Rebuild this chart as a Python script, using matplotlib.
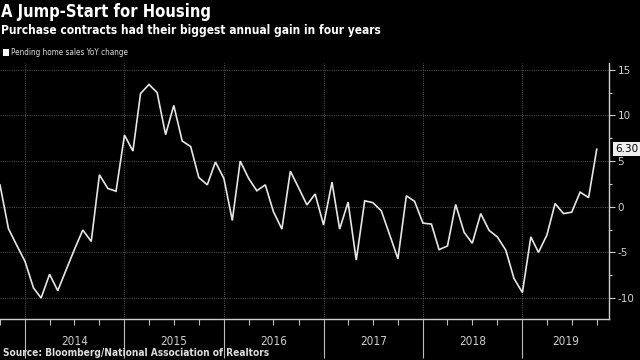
import numpy as np
import pandas as pd
import matplotlib
matplotlib.use("Agg")
import matplotlib.pyplot as plt
import matplotlib.dates as mdates
import matplotlib.transforms as mtransforms
from matplotlib.patches import Rectangle
from matplotlib.ticker import MultipleLocator

plt.rcParams['axes.unicode_minus'] = False
plt.rcParams['font.family'] = ['DejaVu Sans']

# pending home sales, YoY % change, monthly Oct 2013 - Oct 2019
dates = pd.date_range('2013-10-01', '2019-10-01', freq='MS')
yoy = [2.4, -2.4, -4.2, -6.0, -8.9, -10.0, -7.4, -9.2, -6.9, -4.7,
       -2.55, -3.8, 3.5, 2.0, 1.7, 7.85, 6.1, 12.4, 13.4, 12.5,
       7.9, 11.1, 7.2, 6.6, 3.2, 2.4, 4.9, 3.1, -1.5, 5.0,
       3.1, 1.75, 2.4, -0.55, -2.45, 3.9, 2.1, 0.2, 1.4, -2.0,
       2.7, -2.45, 0.5, -5.85, 0.65, 0.45, -0.45, -3.1, -5.7, 1.2,
       0.6, -1.8, -1.9, -4.7, -4.3, 0.25, -2.8, -4.0, -0.75, -2.6,
       -3.3, -4.75, -7.85, -9.4, -3.3, -5.0, -3.1, 0.35, -0.75, -0.6,
       1.6, 1.0, 6.3]
years = [2014, 2015, 2016, 2017, 2018, 2019]
yticks = [-10, -5, 0, 5, 10, 15]

W, H = 640, 360
fig = plt.figure(figsize=(6.4, 3.6), dpi=100, facecolor='black')
ax = fig.add_axes([0, 41 / H, 609 / W, (319 - 63) / H], facecolor='black')

ax.plot(dates, yoy, color='#e6e6e6', lw=1.2, solid_joinstyle='miter')

xmin, xmax = pd.Timestamp('2013-10-01'), pd.Timestamp('2019-11-15')
ax.set_xlim(xmin, xmax)
ax.set_ylim(-12.3, 15.75)

for s in ['top', 'left']:
    ax.spines[s].set_visible(False)
for s in ['right', 'bottom']:
    ax.spines[s].set_color('#cfcfcf')
    ax.spines[s].set_linewidth(1.0)

# y axis on the right
ax.yaxis.tick_right()
ax.set_yticks(yticks)
ax.set_yticklabels([str(v) for v in yticks])
ax.yaxis.set_minor_locator(MultipleLocator(2.5))
ax.tick_params(axis='y', which='major', colors='#cfcfcf', labelsize=7.5,
               length=4, width=0.8, pad=2)
ax.tick_params(axis='y', which='minor', colors='#cfcfcf', length=2.5, width=0.8)

# x axis: long ticks at year starts, short quarterly ticks
ax.xaxis.set_major_locator(mdates.YearLocator())
ax.xaxis.set_minor_locator(mdates.MonthLocator(bymonth=[1, 4, 7, 10]))
ax.xaxis.set_major_formatter(plt.NullFormatter())
ax.tick_params(axis='x', which='major', colors='#bdbdbd', length=28, width=0.8)
ax.tick_params(axis='x', which='minor', colors='#bdbdbd', length=4, width=0.8)

ax.grid(True, which='major', color='#4a4a4a', ls=(0, (1, 1)), lw=0.8)

trans = mtransforms.blended_transform_factory(ax.transData, ax.transAxes)
for y in years:
    start = mdates.date2num(pd.Timestamp(f'{y}-01-01'))
    end = min(mdates.date2num(pd.Timestamp(f'{y + 1}-01-01')), mdates.date2num(xmax))
    ax.text((start + end) / 2, -0.086, str(y), transform=trans, ha='center',
            va='center', color='#cfcfcf', fontsize=8.5, fontstretch='condensed')

# last value tag
ttrans = mtransforms.blended_transform_factory(ax.transAxes, ax.transData)
ax.text(1.01, yoy[-1], f'{yoy[-1]:.2f}', transform=ttrans, ha='left', va='center',
        color='black', fontsize=7.5,
        bbox=dict(boxstyle='square,pad=0.18', fc='#eeeeee', ec='none'))

# titles
fig.text(1 / W, 1 - 3 / H, 'A Jump-Start for Housing', color='white',
         fontsize=11.9, fontweight='bold', fontstretch='condensed', ha='left', va='top')
fig.text(1 / W, 1 - 24 / H, 'Purchase contracts had their biggest annual gain in four years',
         color='white', fontsize=8.6, fontweight='bold', fontstretch='condensed',
         ha='left', va='top')

# legend
fig.patches.append(Rectangle((3 / W, 1 - 55.5 / H), 6 / W, 6 / H, transform=fig.transFigure,
                             fc='white', ec='none'))
fig.text(11 / W, 1 - 52.5 / H, 'Pending home sales YoY change', color='#dddddd',
         fontsize=5.9, fontstretch='condensed', ha='left', va='center')

fig.text(3 / W, 1 - 353 / H, 'Source: Bloomberg/National Association of Realtors',
         color='#dddddd', fontsize=7.3, fontweight='bold', fontstretch='condensed',
         ha='left', va='center')

fig.savefig('out.png', dpi=100, facecolor='black')
